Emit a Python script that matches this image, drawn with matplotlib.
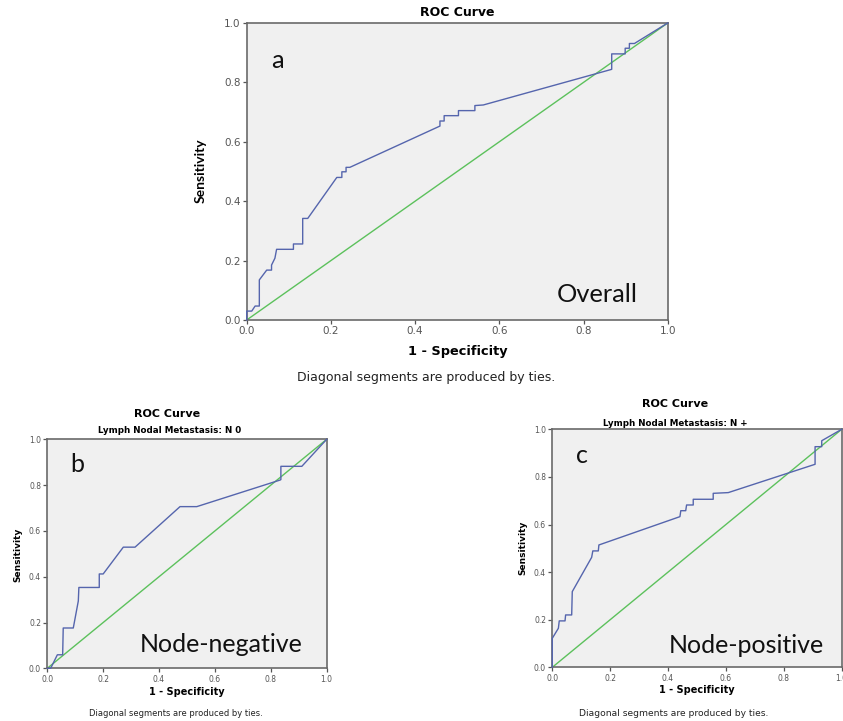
import matplotlib
matplotlib.use("Agg")
import matplotlib.pyplot as plt

W, H = 843, 721

# ---- data (1 - specificity, sensitivity) ----
overall_fpr = [0.0, 0.0, 0.012, 0.020, 0.030, 0.030, 0.0475, 0.059, 0.059, 0.067, 0.071, 0.111, 0.111,
               0.133, 0.133, 0.145, 0.214, 0.226, 0.226, 0.236, 0.236, 0.245, 0.459, 0.459, 0.469,
               0.469, 0.503, 0.503, 0.542, 0.542, 0.562, 0.867, 0.867, 0.899, 0.899, 0.909, 0.909,
               0.921, 1.0]
overall_tpr = [0.0, 0.030, 0.030, 0.047, 0.047, 0.135, 0.168, 0.168, 0.185, 0.208, 0.238, 0.238, 0.256,
               0.256, 0.342, 0.342, 0.480, 0.480, 0.499, 0.499, 0.514, 0.514, 0.653, 0.670, 0.670,
               0.688, 0.688, 0.705, 0.705, 0.722, 0.724, 0.844, 0.896, 0.896, 0.915, 0.915, 0.931,
               0.931, 1.0]

nneg_fpr = [0.0, 0.012, 0.036, 0.055, 0.057, 0.093, 0.111, 0.113, 0.186, 0.186, 0.200, 0.272, 0.314,
            0.475, 0.535, 0.833, 0.836, 0.836, 0.911, 1.0]
nneg_tpr = [0.0, 0.0, 0.059, 0.059, 0.176, 0.176, 0.294, 0.353, 0.353, 0.412, 0.412, 0.529, 0.529,
            0.706, 0.706, 0.822, 0.824, 0.882, 0.882, 1.0]

npos_fpr = [0.0, 0.0, 0.021, 0.024, 0.044, 0.046, 0.067, 0.069, 0.136, 0.140, 0.159, 0.161, 0.441,
            0.444, 0.461, 0.464, 0.487, 0.487, 0.556, 0.556, 0.608, 0.908, 0.908, 0.931, 0.931, 1.0]
npos_tpr = [0.0, 0.122, 0.164, 0.195, 0.195, 0.220, 0.220, 0.318, 0.462, 0.489, 0.489, 0.514, 0.633,
            0.658, 0.658, 0.682, 0.682, 0.706, 0.706, 0.731, 0.734, 0.853, 0.927, 0.927, 0.952, 1.0]

diag = [0.0, 1.0]
ticks = [0.0, 0.2, 0.4, 0.6, 0.8, 1.0]
tick_labels = ["0.0", "0.2", "0.4", "0.6", "0.8", "1.0"]

BLUE = "#5565AD"
GREEN = "#5CC15C"
BG = "#F0F0F0"
SPSS = "DejaVu Sans"
CAL = ["Lato", "Open Sans", "DejaVu Sans"]

fig = plt.figure(figsize=(W / 100, H / 100), dpi=100)


def fx(x):
    return x / W


def fy(y):
    return 1 - y / H


def panel(box, fpr, tpr, tick_fs, letter, letter_xy, name, name_xy, big_fs):
    l, r, t, b = box
    ax = fig.add_axes([fx(l), fy(b), (r - l) / W, (b - t) / H])
    ax.set_facecolor(BG)
    ax.plot(diag, diag, color=GREEN, lw=1.0, clip_on=False, zorder=2)
    ax.plot(fpr, tpr, color=BLUE, lw=1.0, clip_on=False, zorder=3)
    ax.set_xlim(0, 1)
    ax.set_ylim(0, 1)
    ax.set_xticks(ticks)
    ax.set_yticks(ticks)
    ax.set_xticklabels(tick_labels, fontsize=tick_fs, color="#555555", family=SPSS)
    ax.set_yticklabels(tick_labels, fontsize=tick_fs, color="#555555", family=SPSS)
    ax.tick_params(direction="out", length=3, width=0.9, color="#555555", pad=1.5)
    for s in ax.spines.values():
        s.set_color("#6a6a6a")
        s.set_linewidth(1.2)
    ax.text(letter_xy[0], letter_xy[1], letter, fontsize=big_fs, family=CAL,
            ha="left", va="baseline", color="#111111")
    ax.text(name_xy[0], name_xy[1], name, fontsize=big_fs, family=CAL,
            ha="left", va="baseline", color="#111111")
    return ax


# Panel a
panel((246.7, 667.7, 23.0, 320.0), overall_fpr, overall_tpr, 7.5,
      "a", (0.058, 0.847), "Overall", (0.737, 0.062), 18.3)
fig.text(fx(457), fy(12), "ROC Curve", ha="center", va="center", fontsize=9,
         fontweight="bold", family=SPSS)
fig.text(fx(458), fy(351.5), "1 - Specificity", ha="center", va="center", fontsize=9.3,
         fontweight="bold", family=SPSS)
fig.text(fx(201), fy(171), "Sensitivity", ha="center", va="center", fontsize=10,
         fontweight="bold", family=CAL, rotation=90)
fig.text(fx(426), fy(378), "Diagonal segments are produced by ties.", ha="center",
         va="center", fontsize=9, family=SPSS, color="#222222")

# Panel b
panel((47.3, 326.7, 439.3, 668.3), nneg_fpr, nneg_tpr, 5.5,
      "b", (0.081, 0.858), "Node-negative", (0.332, 0.070), 18.0)
fig.text(fx(167), fy(414), "ROC Curve", ha="center", va="center", fontsize=8,
         fontweight="bold", family=SPSS)
fig.text(fx(170), fy(431), "Lymph Nodal Metastasis: N 0", ha="center", va="center",
         fontsize=6.3, fontweight="bold", family=SPSS)
fig.text(fx(187), fy(692), "1 - Specificity", ha="center", va="center", fontsize=7,
         fontweight="bold", family=SPSS)
fig.text(fx(18), fy(555), "Sensitivity", ha="center", va="center", fontsize=6.5,
         fontweight="bold", family=SPSS, rotation=90)
fig.text(fx(176), fy(714), "Diagonal segments are produced by ties.", ha="center",
         va="center", fontsize=6, family=SPSS, color="#222222")

# Panel c
panel((552.3, 841.7, 429.3, 667.3), npos_fpr, npos_tpr, 5.5,
      "c", (0.081, 0.857), "Node-positive", (0.403, 0.059), 18.0)
fig.text(fx(675), fy(404), "ROC Curve", ha="center", va="center", fontsize=8,
         fontweight="bold", family=SPSS)
fig.text(fx(675), fy(423.5), "Lymph Nodal Metastasis: N +", ha="center", va="center",
         fontsize=6.3, fontweight="bold", family=SPSS)
fig.text(fx(697), fy(690), "1 - Specificity", ha="center", va="center", fontsize=7,
         fontweight="bold", family=SPSS)
fig.text(fx(523), fy(548), "Sensitivity", ha="center", va="center", fontsize=6.5,
         fontweight="bold", family=SPSS, rotation=90)
fig.text(fx(674), fy(713), "Diagonal segments are produced by ties.", ha="center",
         va="center", fontsize=6.6, family=SPSS, color="#222222")

fig.savefig("out.png", dpi=100, facecolor="white")
